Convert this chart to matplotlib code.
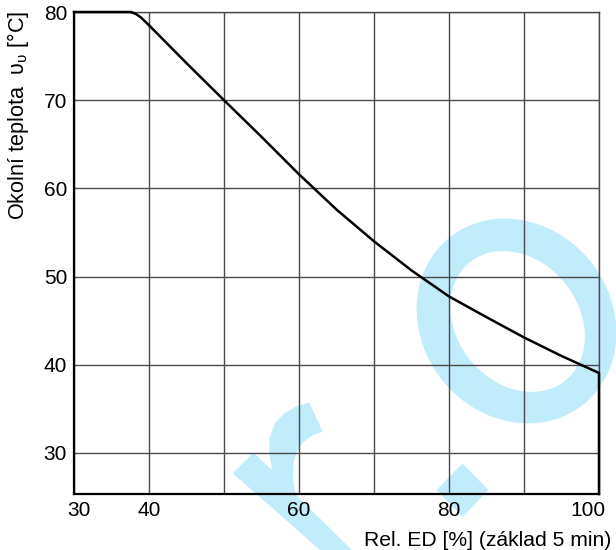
import matplotlib
matplotlib.use("Agg")
import matplotlib.pyplot as plt
import matplotlib.transforms as mtransforms
from matplotlib.patches import Ellipse, Polygon

plt.rcParams['font.family'] = ['Liberation Sans', 'DejaVu Sans']
plt.rcParams['mathtext.fontset'] = 'custom'
plt.rcParams['mathtext.rm'] = 'Liberation Sans'

# ---- data ----
ed_percent = [30, 37.6, 38.3, 38.9, 40, 45, 50, 55, 60, 65, 70, 75, 80, 85, 90, 95, 100, 100]
temperature = [80, 80, 79.75, 79.4, 78.5, 74.2, 70.0, 65.85, 61.6, 57.6, 54.0, 50.7, 47.75, 45.4, 43.1, 41.0, 39.07, 25.35]
x_major = [30, 40, 60, 80, 100]
x_minor = [50, 70, 90]
y_ticks = [30, 40, 50, 60, 70, 80]

W, H = 616, 550
FS = 15
fig = plt.figure(figsize=(W / 100, H / 100), dpi=100)
ax = fig.add_axes([74 / W, (H - 494) / H, 525 / W, (494 - 12) / H])

ax.set_xlim(30, 100)
ax.set_ylim(25.35, 80)

ax.set_xticks(x_major)
ax.set_xticks(x_minor, minor=True)
ax.set_yticks(y_ticks)
ax.set_xticklabels([str(v) for v in x_major])
ax.set_yticklabels([str(v) for v in y_ticks])
ax.tick_params(axis='both', which='both', length=0, labelsize=FS, colors='black')
ax.tick_params(axis='x', pad=5)
ax.tick_params(axis='y', pad=5)

grid_col = '#4a4a4a'
ax.set_axisbelow(True)
ax.grid(True, which='both', color=grid_col, linewidth=1.0)

for side in ['left', 'bottom']:
    ax.spines[side].set_linewidth(1.6)
    ax.spines[side].set_color('black')
for side in ['top', 'right']:
    ax.spines[side].set_linewidth(1.0)
    ax.spines[side].set_color(grid_col)

# shift end tick labels like the reference
for lab in ax.get_xticklabels():
    t = lab.get_text()
    if t == '30':
        lab.set_transform(lab.get_transform() + mtransforms.ScaledTranslation(4.5 / 100, 0, fig.dpi_scale_trans))
    elif t == '100':
        lab.set_transform(lab.get_transform() + mtransforms.ScaledTranslation(-11.5 / 100, 0, fig.dpi_scale_trans))

ax.plot(ed_percent, temperature, color='black', linewidth=1.8, clip_on=False, zorder=5,
        solid_joinstyle='round')

# ---- watermark (decoration in pixel coordinates, y downward) ----
pix = mtransforms.Affine2D().scale(1 / W, -1 / H).translate(0, 1) + fig.transFigure
wm = '#c0ecfc'
ax.add_patch(Ellipse((516.5, 321), width=2 * 107, height=2 * 95, angle=51, facecolor=wm,
                     edgecolor='none', transform=pix, clip_on=False, zorder=0.1))
ax.add_patch(Ellipse((517.5, 321.5), width=2 * 76, height=2 * 61, angle=51, facecolor='white',
                     edgecolor='none', transform=pix, clip_on=False, zorder=0.15))

r_pts = [(232.7, 473.3), (253.3, 452.7), (272.0, 470.0), (269.0, 452.0), (269.5, 438.0),
         (274.5, 424.0), (284.0, 413.5), (296.0, 406.5), (309.3, 402.7), (322.7, 431.7),
         (312.0, 435.5), (303.0, 442.5), (296.5, 452.0), (293.5, 463.0), (293.0, 477.0),
         (295.0, 494.0), (362.0, 560.0), (331.5, 560.0)]
ax.add_patch(Polygon(r_pts, closed=True, facecolor=wm, edgecolor='none', transform=pix,
                     clip_on=False, zorder=0.1))
diamond = [(462.5, 463.5), (488.5, 490.0), (462.5, 517.0), (436.5, 490.0)]
ax.add_patch(Polygon(diamond, closed=True, facecolor=wm, edgecolor='none', transform=pix,
                     clip_on=False, zorder=0.1))

# ---- labels ----
fig.text(611 / W, 1 - 546 / H, 'Rel. ED [%] (základ 5 min)', ha='right', va='baseline',
         fontsize=15.2)
fig.text(18 / W, 1 - 11 / H, 'Okolní teplota  υ$_\\mathregular{υ}$ [°C]', rotation=90,
         ha='center', va='top', fontsize=15.6)

fig.savefig('out.png', dpi=100, facecolor='white')
